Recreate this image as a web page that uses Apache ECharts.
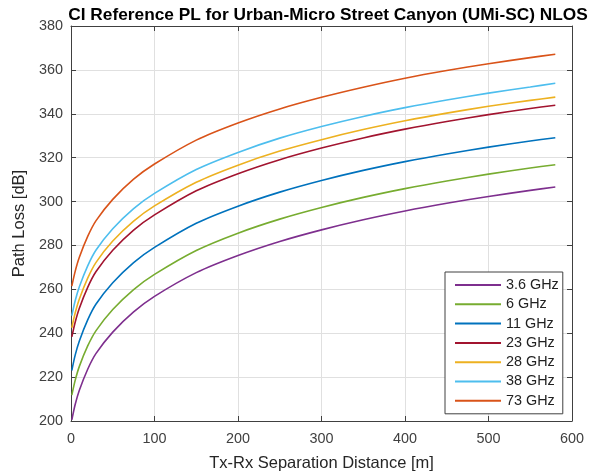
<!DOCTYPE html>
<html>
<head>
<meta charset="utf-8">
<script src="https://cdn.jsdelivr.net/npm/echarts@6/dist/echarts.min.js"></script>
<style>
  html, body { margin: 0; padding: 0; background: #fff; }
  #chart { width: 594px; height: 476px; }
</style>
</head>
<body>
<div id="chart"></div>
<script>
const distances = [1, 5, 10, 20, 30, 50, 75, 100, 150, 200, 250, 300, 350, 400, 450, 500, 550, 580];

// path loss [dB] per frequency
const pl36 = [200.5, 207.5, 214, 223.6, 230.8, 240.5, 249.7, 256.8, 267.6, 275.4, 281.8, 287.1, 291.7, 295.7, 299.2, 302.3, 305.1, 306.6];
const pl6 = [211.8, 218.5, 224.9, 234.2, 241.2, 250.8, 259.9, 266.8, 277.7, 285.6, 292, 297.3, 301.9, 305.9, 309.4, 312.5, 315.3, 316.8];
const pl11 = [223, 230, 236.5, 246.1, 253.3, 263, 272.2, 279.1, 290.1, 297.9, 304.3, 309.6, 314.2, 318.2, 321.7, 324.8, 327.6, 329.1];
const pl23 = [238.3, 245, 251.4, 260.9, 268.1, 277.8, 287, 293.9, 304.9, 312.7, 319.1, 324.4, 329, 333, 336.5, 339.6, 342.4, 343.9];
const pl28 = [242.5, 249.2, 255.6, 265.1, 272.3, 282, 291.1, 298, 308.8, 316.6, 323, 328.2, 332.8, 336.8, 340.3, 343.4, 346.1, 347.6];
const pl38 = [248, 254.8, 261.2, 270.7, 277.9, 287.6, 296.8, 303.7, 314.6, 322.4, 328.9, 334.2, 338.8, 342.8, 346.3, 349.4, 352.2, 353.9];
const pl73 = [261.5, 268.2, 274.6, 284.1, 291.3, 301, 310.2, 317.1, 328, 335.8, 342.2, 347.5, 352.1, 356.2, 359.7, 362.8, 365.6, 367.1];

const names = ['3.6 GHz', '6 GHz', '11 GHz', '23 GHz', '28 GHz', '38 GHz', '73 GHz'];
const colors = ['#7E2F8E', '#77AC30', '#0072BD', '#A2142F', '#EDB120', '#4DBEEE', '#D95319'];
const values = [pl36, pl6, pl11, pl23, pl28, pl38, pl73];

const xTicks = [0, 100, 200, 300, 400, 500, 600];
const yTicks = [200, 220, 240, 260, 280, 300, 320, 340, 360, 380];

const chart = echarts.init(document.getElementById('chart'));

const font = 'Liberation Sans, Arial, Helvetica, sans-serif';
const axisColor = '#404040';

const series = values.map((arr, i) => ({
  name: names[i],
  type: 'line',
  data: arr.map((v, j) => [distances[j], v]),
  showSymbol: false,
  symbol: 'none',
  smooth: 0.3,
  lineStyle: { width: 1.6, color: colors[i] },
  itemStyle: { color: colors[i] },
  animation: false,
}));

const baseX = {
  type: 'value',
  min: xTicks[0],
  max: xTicks[xTicks.length - 1],
  interval: 100,
  axisLine: { show: true, onZero: false, lineStyle: { color: axisColor, width: 1 } },
  axisTick: { show: true, inside: true, length: 5, lineStyle: { color: axisColor } },
};
const baseY = {
  type: 'value',
  min: yTicks[0],
  max: yTicks[yTicks.length - 1],
  interval: 20,
  axisLine: { show: true, onZero: false, lineStyle: { color: axisColor, width: 1 } },
  axisTick: { show: true, inside: true, length: 5, lineStyle: { color: axisColor } },
};

chart.setOption({
  backgroundColor: '#fff',
  animation: false,
  title: {
    text: 'CI Reference PL for Urban-Micro Street Canyon (UMi-SC) NLOS',
    left: 323,
    textAlign: 'center',
    top: 2,
    textStyle: { color: '#000', fontWeight: 'bold', fontSize: 17.3, fontFamily: font },
  },
  grid: { left: 71, right: 22, top: 26, bottom: 55, containLabel: false, outerBoundsMode: 'none' },
  legend: {
    data: names,
    orient: 'vertical',
    left: 445,
    top: 272,
    padding: [6, 4, 6, 10],
    itemGap: 5.3,
    itemWidth: 46,
    itemHeight: 14,
    icon: 'path://M0,0H46V2H0Z',
    backgroundColor: '#fff',
    borderColor: '#404040',
    borderWidth: 1,
    borderRadius: 0,
    textStyle: { color: '#222', fontSize: 14.4, fontFamily: font },
  },
  xAxis: [
    Object.assign({}, baseX, {
      position: 'bottom',
      name: 'Tx-Rx Separation Distance [m]',
      nameLocation: 'middle',
      nameGap: 34,
      nameTextStyle: { color: '#262626', fontSize: 16.5, fontFamily: font },
      axisLabel: { color: '#404040', fontSize: 14.4, margin: 11, fontFamily: font },
      splitLine: { show: true, lineStyle: { color: '#e0e0e0', width: 1 } },
    }),
    Object.assign({}, baseX, {
      position: 'top',
      axisLabel: { show: false },
      splitLine: { show: false },
    }),
  ],
  yAxis: [
    Object.assign({}, baseY, {
      position: 'left',
      name: 'Path Loss [dB]',
      nameLocation: 'middle',
      nameGap: 37,
      nameTextStyle: { color: '#262626', fontSize: 16.5, fontFamily: font },
      axisLabel: { color: '#404040', fontSize: 14.4, margin: 8, fontFamily: font },
      splitLine: { show: true, lineStyle: { color: '#e0e0e0', width: 1 } },
    }),
    Object.assign({}, baseY, {
      position: 'right',
      axisLabel: { show: false },
      splitLine: { show: false },
    }),
  ],
  series,
});
</script>
</body>
</html>
